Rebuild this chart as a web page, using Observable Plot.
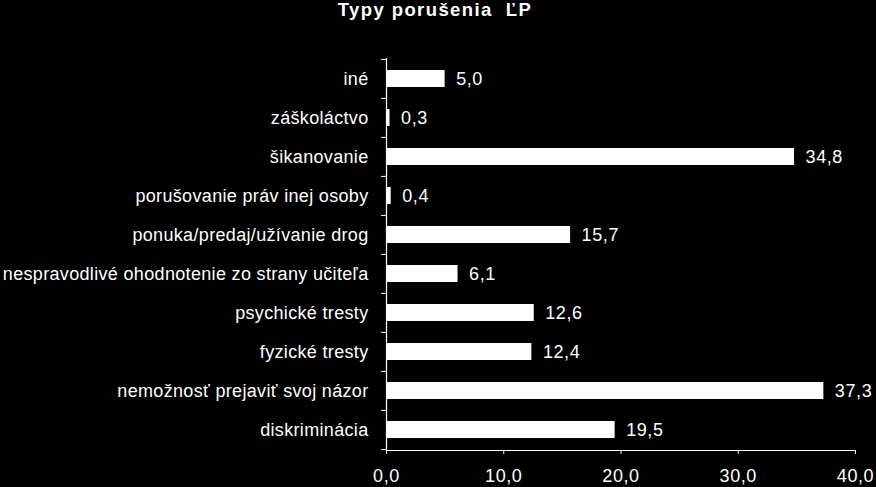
<!DOCTYPE html>
<html>
<head>
<meta charset="utf-8">
<script src="https://cdn.jsdelivr.net/npm/d3@7"></script>
<script src="https://cdn.jsdelivr.net/npm/@observablehq/plot@0.6"></script>
<style>
  html, body { margin: 0; padding: 0; background: #000; }
  #chart { width: 876px; height: 487px; }
  g[aria-label="y-axis tick label"] text { letter-spacing: 0.33px; }
  g[aria-label="x-axis tick label"] text { letter-spacing: 0.6px; }
  g[aria-label="text"] text { letter-spacing: 0.6px; }
  g[aria-label="text"] text.title { letter-spacing: 1.4px; }
</style>
</head>
<body>
<div id="chart"></div>
<script>
const title = "Typy porušenia\u00a0 ĽP";
const categories = [
  "iné",
  "záškoláctvo",
  "šikanovanie",
  "porušovanie práv inej osoby",
  "ponuka/predaj/užívanie drog",
  "nespravodlivé ohodnotenie zo strany učiteľa",
  "psychické tresty",
  "fyzické tresty",
  "nemožnosť prejaviť svoj názor",
  "diskriminácia"
];
const values = [5.0, 0.3, 34.8, 0.4, 15.7, 6.1, 12.6, 12.4, 37.3, 19.5];
const xTicks = [0, 10, 20, 30, 40];

const data = categories.map((c, i) => ({category: c, value: values[i]}));
const fmt = v => v.toFixed(1).replace(".", ",");

const H = 487, mt = 58, mb = 37;
const step = (H - mt - mb) / categories.length;
const FS = 18;

const chart = Plot.plot({
  width: 876,
  height: H,
  marginLeft: 386,
  marginRight: 21,
  marginTop: mt,
  marginBottom: mb,
  style: {background: "#000", color: "#fff", fontFamily: "Liberation Sans, Arial, sans-serif", fontSize: FS + "px", overflow: "visible"},
  x: {domain: [0, 40]},
  y: {domain: categories, paddingInner: 0.56, paddingOuter: 0.28, align: 0.5},
  marks: [
    Plot.barX(data, {x: "value", y: "category", fill: "#fff"}),
    Plot.text(data, {x: "value", y: "category", text: d => fmt(d.value), textAnchor: "start", dx: 11, fill: "#fff", fontSize: FS}),
    Plot.ruleX([0], {stroke: "#fff", strokeWidth: 1.2}),
    Plot.frame({anchor: "bottom", stroke: "#fff", strokeWidth: 1.2}),
    Plot.ruleY(categories, {y: d => d, x1: -0.42, x2: 0, dy: -step / 2, stroke: "#fff"}),
    Plot.ruleY([categories[categories.length - 1]], {y: d => d, x1: -0.42, x2: 0, dy: step / 2, stroke: "#fff"}),
    Plot.axisX({ticks: xTicks, tickFormat: fmt, tickSize: 4, tickPadding: 15, stroke: "#fff", fill: "#fff", fontSize: FS, label: null}),
    Plot.axisY({tickSize: 0, tickPadding: 18, fill: "#fff", fontSize: FS, label: null}),
    Plot.text([title], {frameAnchor: "top", dy: -mt + 2, dx: -186, text: d => d, fill: "#fff", fontWeight: "bold", fontSize: 18.5, lineAnchor: "top"})
  ]
});
d3.select(chart).selectAll("text").filter(function () { return this.textContent === title; }).classed("title", true);
document.getElementById("chart").appendChild(chart);
</script>
</body>
</html>
